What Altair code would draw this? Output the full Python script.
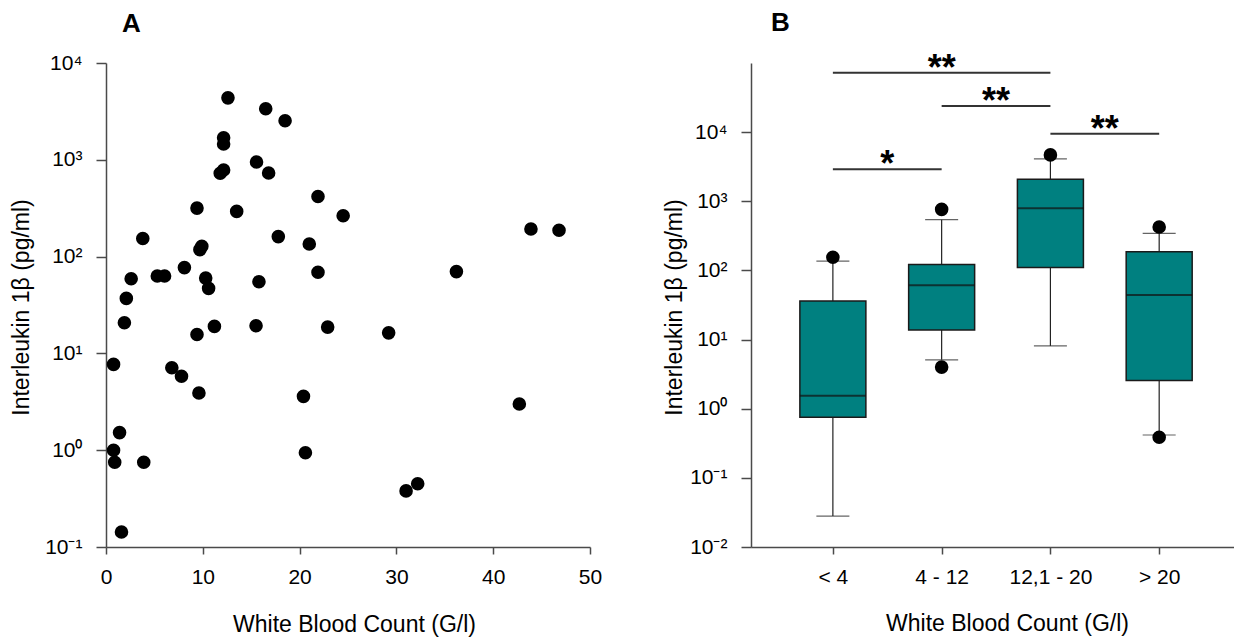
import altair as alt
import pandas as pd

# ---------------- Panel A: IL-1beta versus white blood count ----------------
wbc = [12.6, 16.5, 18.5, 12.15, 12.15, 15.55, 11.8, 12.15, 16.8, 21.9,
       24.5, 9.4, 13.5, 43.9, 46.8, 3.8, 17.8, 21.0, 9.9, 9.7,
       8.1, 5.3, 6.05, 2.6, 10.3, 10.6, 15.8, 21.9, 36.2, 2.1,
       1.9, 9.4, 11.2, 15.5, 22.9, 29.2, 0.78, 6.8, 7.8, 9.6,
       20.4, 42.7, 1.4, 0.78, 0.9, 3.9, 20.6, 31.0, 32.2, 1.6]
il1b = [4365, 3365, 2530, 1690, 1455, 950, 726, 785, 731, 418,
        264, 317, 293, 193, 187, 154, 161, 135, 128, 118,
        77, 63, 63, 59, 60, 47, 55, 69, 70, 37,
        20.7, 15.7, 19.0, 19.3, 18.7, 16.3, 7.7, 7.1, 5.8, 3.9,
        3.6, 3.0, 1.52, 1.0, 0.75, 0.75, 0.94, 0.38, 0.45, 0.143]

# ---------------- Panel B: box statistics per WBC group ----------------
groups = ["< 4", "4 - 12", "12,1 - 20", "> 20"]
whisker_low = [0.028, 5.1, 8.1, 0.417]
q1 = [0.75, 13.7, 110, 2.55]
median = [1.54, 61, 796, 44]
q3 = [36, 122, 2080, 187]
whisker_high = [136, 542, 4100, 344]

outlier_group = [0, 1, 1, 2, 3, 3]
outlier_value = [155, 764, 4.0, 4690, 424, 0.386]

# significance brackets between groups
sig_from = [0, 1, 2, 0]
sig_to = [2, 2, 3, 1]
sig_level = [72000, 23800, 9500, 2910]
sig_label = ["**", "**", "**", "*"]

FONT = "Liberation Sans"
AXIS_GREY = "#4a4a4a"
TEAL = "#008080"

sup = {-2: "10⁻²", -1: "10⁻¹", 0: "10⁰", 1: "10¹", 2: "10²", 3: "10³", 4: "10⁴"}
pow_label_expr = ("[" + ",".join("'%s'" % sup[k] for k in range(-2, 5)) +
                  "][round(log(datum.value)/LN10) + 2]")
group_label_expr = ("[" + ",".join("'%s'" % g for g in groups) +
                    "][round(datum.value)]")

W, H = 484, 484

# ---------------- Panel A ----------------
df_a = pd.DataFrame({"wbc": wbc, "il1b": il1b})

panel_a = alt.Chart(df_a).mark_circle(size=185, color="black", opacity=1).encode(
    x=alt.X("wbc:Q",
            scale=alt.Scale(domain=[0, 50], nice=False, zero=False),
            axis=alt.Axis(values=[0, 10, 20, 30, 40, 50], format="d",
                          title="White Blood Count (G/l)",
                          tickSize=7, labelPadding=12,
                          titleX=248, titleY=84, titleBaseline="alphabetic")),
    y=alt.Y("il1b:Q",
            scale=alt.Scale(type="log", domain=[0.1, 10000], nice=False),
            axis=alt.Axis(values=[0.1, 1, 10, 100, 1000, 10000],
                          labelExpr=pow_label_expr,
                          title="Interleukin 1β (pg/ml)",
                          tickSize=10, labelPadding=14,
                          titleX=-78, titleY=244, titleAngle=270,
                          titleAlign="center", titleBaseline="alphabetic")),
).properties(
    width=W, height=H,
    title=alt.TitleParams("A", anchor="start", frame="group", dx=16, dy=24,
                          fontSize=26, fontWeight="bold", font=FONT,
                          baseline="alphabetic", offset=18),
)

# ---------------- Panel B ----------------
df_box = pd.DataFrame({
    "pos": list(range(len(groups))),
    "lo": whisker_low, "q1": q1, "med": median, "q3": q3, "hi": whisker_high,
})
df_out = pd.DataFrame({"pos": outlier_group, "val": outlier_value})
df_sig = pd.DataFrame({"a": sig_from, "b": sig_to, "lvl": sig_level,
                       "lab": sig_label})

x_b = alt.X("pos:Q",
            scale=alt.Scale(domain=[-0.7068, 3.6419], nice=False, zero=False),
            axis=alt.Axis(values=[0, 1, 2, 3], labelExpr=group_label_expr,
                          title="White Blood Count (G/l)",
                          tickSize=7, labelPadding=12,
                          titleX=256, titleY=83, titleBaseline="alphabetic"))
y_scale_b = alt.Scale(type="log", domain=[0.01, 100000], nice=False)
y_axis_b = alt.Axis(values=[0.01, 0.1, 1, 10, 100, 1000, 10000],
                    labelExpr=pow_label_expr,
                    title="Interleukin 1β (pg/ml)",
                    tickSize=10, labelPadding=14,
                    titleX=-70, titleY=244, titleAngle=270,
                    titleAlign="center", titleBaseline="alphabetic")

base_box = alt.Chart(df_box)

whisk_low = base_box.mark_rule(color="#222222", strokeWidth=1.2).encode(
    x=x_b, y=alt.Y("lo:Q", scale=y_scale_b, axis=y_axis_b), y2="q1:Q")
whisk_high = base_box.mark_rule(color="#222222", strokeWidth=1.2).encode(
    x="pos:Q", y="q3:Q", y2="hi:Q")
cap_low = base_box.mark_tick(orient="horizontal", size=33, thickness=1.2,
                             color="#222222").encode(x="pos:Q", y="lo:Q")
cap_high = base_box.mark_tick(orient="horizontal", size=33, thickness=1.2,
                              color="#222222").encode(x="pos:Q", y="hi:Q")
boxes = base_box.mark_bar(size=66, color=TEAL, fill=TEAL, stroke="#1a1a1a",
                          strokeWidth=1.5).encode(x="pos:Q", y="q1:Q", y2="q3:Q")
medians = base_box.mark_tick(orient="horizontal", size=66, thickness=2,
                             color="#111111").encode(x="pos:Q", y="med:Q")
outliers = alt.Chart(df_out).mark_circle(size=185, color="black",
                                         opacity=1).encode(x="pos:Q", y="val:Q")

base_sig = alt.Chart(df_sig)
sig_lines = base_sig.mark_rule(color="#333333", strokeWidth=2).encode(
    x="a:Q", x2="b:Q", y="lvl:Q")
sig_text = base_sig.transform_calculate(mid="(datum.a + datum.b) / 2").mark_text(
    font=FONT, fontSize=36, fontWeight="bold", color="black",
    baseline="alphabetic", dy=7).encode(
    x="mid:Q", y="lvl:Q", text="lab:N")

panel_b = alt.layer(
    whisk_low, whisk_high, cap_low, cap_high, boxes, medians, outliers,
    sig_lines, sig_text,
).properties(
    width=483, height=H,
    title=alt.TitleParams("B", anchor="start", frame="group", dx=20, dy=28,
                          fontSize=26, fontWeight="bold", font=FONT,
                          baseline="alphabetic", offset=22),
)

chart = alt.HConcatChart(
    hconcat=[panel_a, panel_b], spacing=161, bounds="flush",
).properties(
    autosize=alt.AutoSizeParams(type="none"),
    padding={"left": 106, "top": 63, "right": 1128, "bottom": 574},
).configure_view(
    stroke=None,
).configure_axis(
    grid=False,
    domainColor=AXIS_GREY, domainWidth=1.5,
    tickColor=AXIS_GREY, tickWidth=1.5,
    labelFont=FONT, labelFontSize=21, labelColor="black",
    titleFont=FONT, titleFontSize=23, titleFontWeight="normal",
    titleColor="black", labelOverlap=False, labelFlush=False,
).configure_axisX(
    labelBaseline="top",
).configure_axisY(
    labelBaseline="middle",
)

chart.save("out.html", embed_options={"renderer": "svg", "actions": False})
